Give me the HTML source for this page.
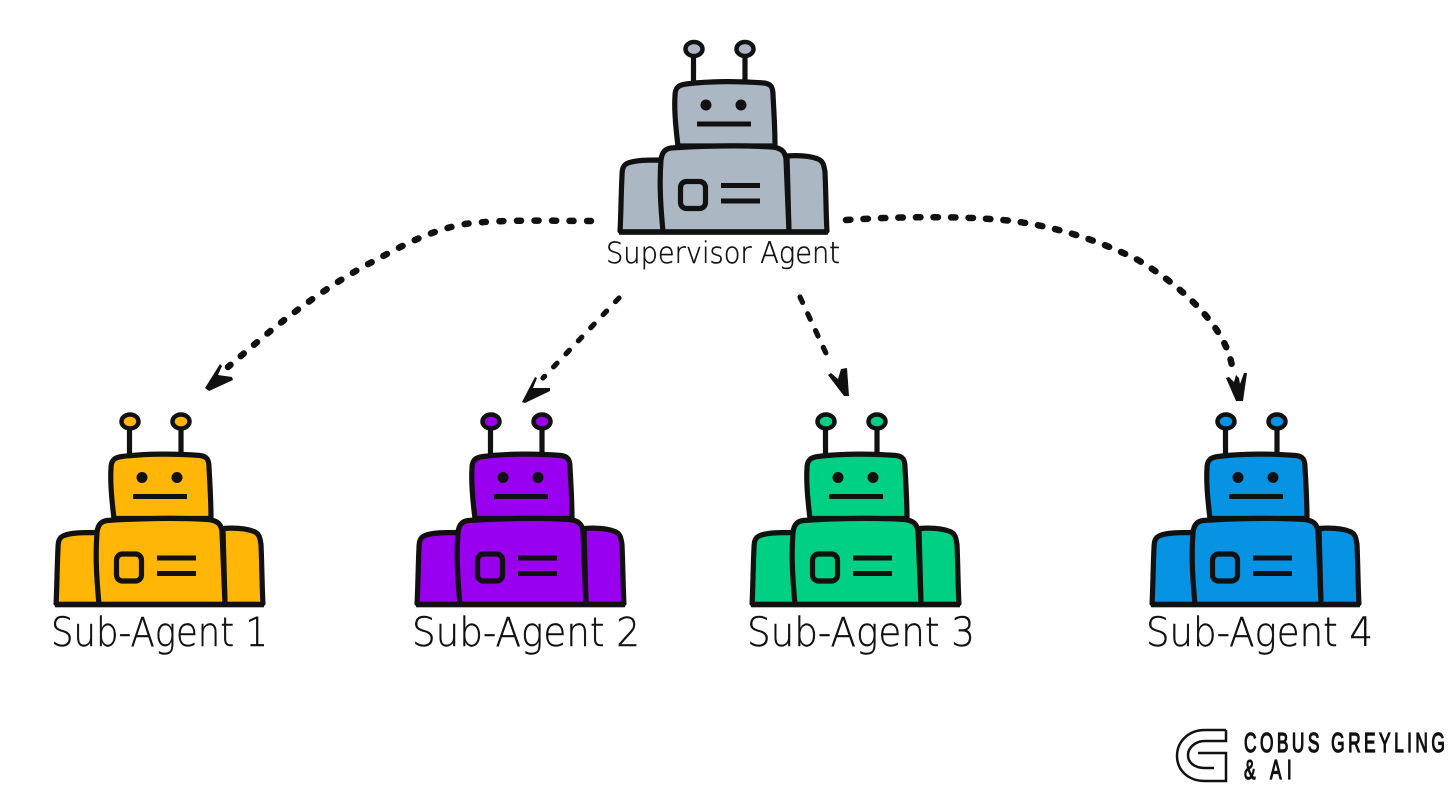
<!DOCTYPE html>
<html><head><meta charset="utf-8">
<style>
html,body{margin:0;padding:0;background:#fff;width:1456px;height:786px;overflow:hidden}
svg{display:block}
.lb{font-family:"DejaVu Sans","Liberation Sans",sans-serif;font-weight:200;fill:#111;stroke:#111;stroke-width:.45}
.lg{font-family:"Liberation Sans",sans-serif;font-weight:400;fill:#111;stroke:#111;stroke-width:1.3}
</style></head><body>
<svg width="1456" height="786" viewBox="0 0 1456 786" xmlns="http://www.w3.org/2000/svg">
<defs>
<g id="robot" stroke="#111" stroke-width="5.2" stroke-linejoin="round" stroke-linecap="butt">
  <path d="M693.500 56V84M745 56V84" fill="none"/>
  <ellipse cx="694" cy="49" rx="8.500" ry="7" stroke-width="4.500"/>
  <ellipse cx="745" cy="49" rx="8.500" ry="7" stroke-width="4.500"/>
  <path d="M678 146C676 130 674 110 675 96C675 88 678 85 686 84C710 81 740 81 764 83C771 84 773 87 773 95C774 112 775 130 775 146Z"/>
  <path d="M661 160C648 160 636 160 628 163C623 165 622 169 622 176C621 195 621 215 620 232H664Z" stroke-linejoin="bevel"/>
  <path d="M787 156C800 155 810 156 818 159C823 161 824 165 825 172C826 195 826 215 827 232H789Z" stroke-linejoin="bevel"/>
  <path d="M663 232C661 210 659 185 661 160C662 152 665 149 671 148C700 146 740 145 772 147C781 148 785 151 786 159C787 185 788 210 789 232Z" stroke-linejoin="bevel"/>
  <path d="M619 232H828" fill="none" stroke-width="5.500"/>
  <path d="M697 124H751M721 185.500H760M721 201H760" fill="none" stroke-width="5"/>
  <rect x="680.500" y="181.500" width="25" height="27" rx="6" fill="none"/>
  <circle cx="706" cy="105" r="3.500" fill="#111" stroke-width="4"/>
  <circle cx="741" cy="105" r="3.500" fill="#111" stroke-width="4"/>
</g>
</defs>

<use href="#robot" fill="#ABB8C3"/>
<use href="#robot" fill="#FFB606" transform="translate(-564 372.500)"/>
<use href="#robot" fill="#9900EF" transform="translate(-203 372.500)"/>
<use href="#robot" fill="#00D084" transform="translate(132 372.500)"/>
<use href="#robot" fill="#0693E3" transform="translate(532 372.500)"/>

<text class="lb" x="606" y="263" font-size="29" textLength="234" lengthAdjust="spacingAndGlyphs">Supervisor Agent</text>
<text class="lb" x="51" y="646" font-size="40" textLength="217" lengthAdjust="spacingAndGlyphs">Sub-Agent 1</text>
<text class="lb" x="412" y="646" font-size="40" textLength="228" lengthAdjust="spacingAndGlyphs">Sub-Agent 2</text>
<text class="lb" x="747" y="646" font-size="40" textLength="228" lengthAdjust="spacingAndGlyphs">Sub-Agent 3</text>
<text class="lb" x="1146" y="646" font-size="40" textLength="227" lengthAdjust="spacingAndGlyphs">Sub-Agent 4</text>

<g fill="none" stroke="#111" stroke-linecap="round" stroke-linejoin="round">
  <path stroke-width="6.500" stroke-dasharray="4 13.500" d="M591 221C560 221 500 219 465 224C430 230 400 247 372 262C340 279 310 300 283 321C265 335 248 350 228 367"/>
  <path stroke-width="5.200" stroke-dasharray="5 13" d="M619 298L543 378"/>
  <path stroke-width="5.200" stroke-dasharray="6 12.500" d="M800 297L831 364"/>
  <path stroke-width="6.500" stroke-dasharray="4.500 13" d="M846 220C890 217 950 216 990 219C1040 222 1090 236 1138 260C1180 285 1225 325 1232 366"/>
</g>
<g fill="#111">
  <path d="M205 388L220 364L222 366L218 375L232 377L233 380L209 391Z"/>
  <path d="M522 402L535 377L537 378L533 388L550 388L550 391L525 403Z"/>
  <path d="M849 396L844 396L828 375L831 373L838 379L841 369L847 368Z"/>
  <path d="M1243 401L1236 401L1226 378L1229 377L1234 382L1236 375L1239 378L1240 384L1244 373L1247 373Z"/>
</g>

<g fill="none" stroke="#111" stroke-width="2.500" stroke-linejoin="miter">
  <path d="M1226 730H1205C1188 730 1177 742 1177 756C1177 770 1188 781 1205 781H1226V753H1198"/>
  <path d="M1226 730V741H1205C1195 741 1188 748 1188 755C1188 763 1195 768 1205 768H1214"/>
</g>
<text class="lg" transform="translate(1244 752) scale(.62 1)" x="0" y="0" font-size="28" textLength="324" lengthAdjust="spacing">COBUS GREYLING</text>
<text class="lg" transform="translate(1244 779) scale(.62 1)" x="0" y="0" font-size="28" textLength="77" lengthAdjust="spacing">&amp; AI</text>
</svg>
</body></html>
